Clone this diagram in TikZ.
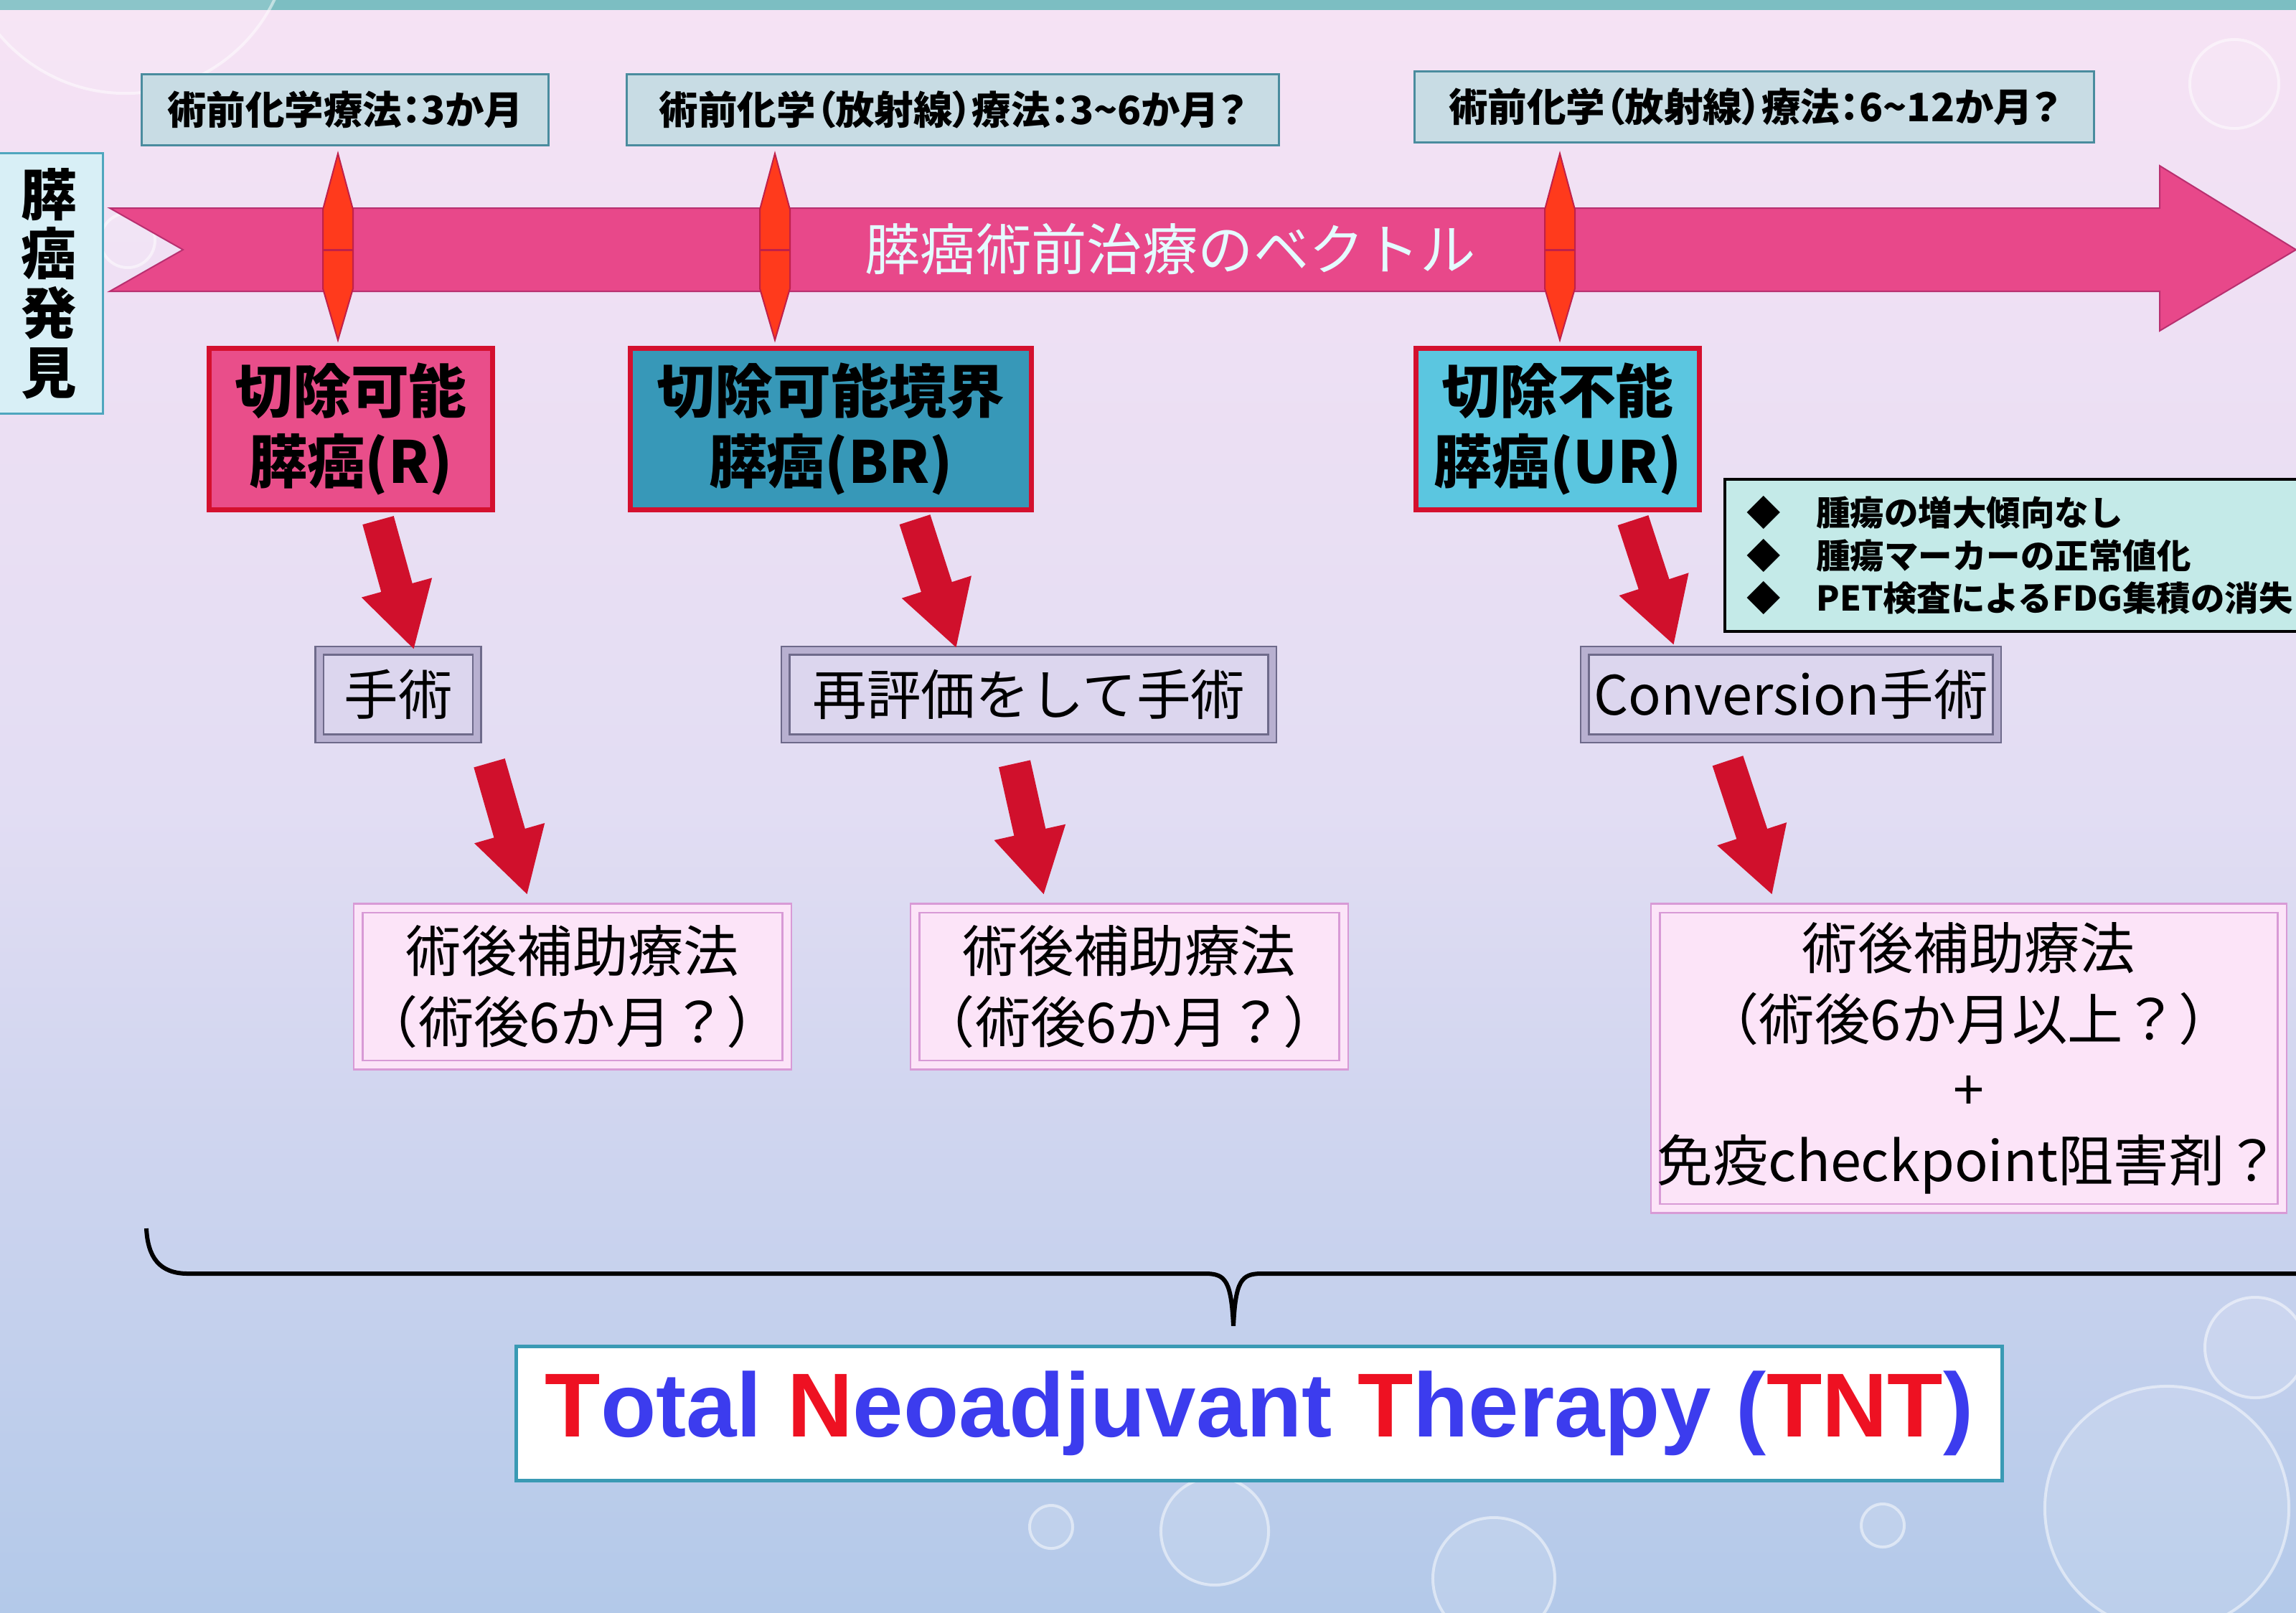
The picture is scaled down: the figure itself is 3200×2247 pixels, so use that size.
\documentclass[tikz,border=0pt]{standalone}
\usepackage{fontspec}
\newfontfamily\jpfont{Noto Sans CJK JP}
\newfontfamily\jppfont[RawFeature=+palt]{Noto Sans CJK JP}
\newfontfamily\tntfont{Liberation Sans}
\usetikzlibrary{positioning}
\usetikzlibrary{calc}
\usetikzlibrary{arrows.meta}

\definecolor{bgtop}{HTML}{F6E2F4}
\definecolor{bgmid}{HTML}{E2DDF3}
\definecolor{bgbottom}{HTML}{B3C9E9}
\definecolor{bandteal}{HTML}{7CBEC2}
\definecolor{discfill}{HTML}{D8EFF6}
\definecolor{discline}{HTML}{4FA6BE}
\definecolor{termfill}{HTML}{C8DCE4}
\definecolor{termline}{HTML}{4A8C9E}
\definecolor{vecpink}{HTML}{E8488A}
\definecolor{vecedge}{HTML}{B83070}
\definecolor{vectext}{HTML}{E4FBFF}
\definecolor{tickred}{HTML}{FF3A1C}
\definecolor{tickedge}{HTML}{C0204A}
\definecolor{stagered}{HTML}{D4102E}
\definecolor{rfill}{HTML}{E94E8A}
\definecolor{brfill}{HTML}{3798B8}
\definecolor{urfill}{HTML}{5BC6E0}
\definecolor{opline}{HTML}{6E6A8A}
\definecolor{opband}{HTML}{B8B0D0}
\definecolor{opfill}{HTML}{DCD6EE}
\definecolor{adjfill}{HTML}{FCE4F8}
\definecolor{adjline}{HTML}{D89AD6}
\definecolor{critfill}{HTML}{C4EAE8}
\definecolor{flowred}{HTML}{D0102C}
\definecolor{tntframe}{HTML}{3A9AB4}
\definecolor{tntred}{HTML}{EE1122}
\definecolor{tntblue}{HTML}{3C3CEE}

\begin{document}
\begin{tikzpicture}[x=0.01cm, y=-0.01cm,
			term/.style={draw=termline, fill=termfill, line width=0.03cm, inner sep=0pt, minimum height=0.98cm, font=\jppfont\bfseries\fontsize{15.5}{18}\selectfont},
			stage/.style={draw=stagered, line width=0.07cm, inner sep=0pt, minimum height=2.25cm, align=center, font=\jpfont\bfseries\fontsize{23}{28}\selectfont},
			op/.style={draw=opline, double=opband, line width=0.025cm, double distance=0.09cm, fill=opfill, inner sep=0pt, minimum height=1.22cm, font=\jpfont\fontsize{21.5}{26}\selectfont},
			adj/.style={draw=adjline, double=adjfill, line width=0.025cm, double distance=0.1cm, fill=adjfill, inner sep=0pt, align=center, font=\jpfont\fontsize{22}{28}\selectfont},
			flow/.style={draw=flowred, line width=0.45cm, -{Triangle[length=0.9cm, width=0.95cm]}},
			bubble/.style={draw=white, draw opacity=0.5, line width=0.04cm, fill=white, fill opacity=0.12}]
			\useasboundingbox (0,0) rectangle (3200,2247);
			\fill[top color=bgtop, bottom color=bgbottom, middle color=bgmid] (0,0) rectangle (3200,2247);
			\fill[bandteal] (0,0) rectangle (3200,14);
			% water drops on the slide
			\path[bubble] (175,-100) circle[radius=2.3cm];
			\path[bubble] (3114,117) circle[radius=0.62cm];
			\path[bubble] (178,335) circle[radius=0.38cm];
			\path[bubble] (1465,2128) circle[radius=0.3cm];
			\path[bubble] (1693,2134) circle[radius=0.75cm];
			\path[bubble] (2082,2200) circle[radius=0.85cm];
			\path[bubble] (2624,2126) circle[radius=0.3cm];
			\path[bubble] (3020,2102) circle[radius=1.7cm];
			\path[bubble] (3143,1878) circle[radius=0.7cm];
			% treatment vector
			\node[draw=discline, fill=discfill, line width=0.03cm, minimum width=1.5cm, minimum height=3.62cm, inner sep=0pt, align=center, font=\jpfont\bfseries\fontsize{22}{23.5}\selectfont] (disc) at (68,395) {膵\\癌\\発\\見};
			\filldraw[fill=vecpink, draw=vecedge, line width=0.02cm] (153,290) -- (3010,290) -- (3010,231) -- (3200,348) -- (3010,461) -- (3010,406) -- (153,406) -- (255,348) -- cycle;
			\node[text=vectext, font=\jpfont\fontsize{22}{26}\selectfont] (vec) at (1631,347) {膵癌術前治療のベクトル};
			\foreach \x in {471,1080,2174} {
				\filldraw[fill=tickred, draw=tickedge, line width=0.02cm] (\x,214) -- (\x+21,292) -- (\x+21,402) -- (\x,474) -- (\x-21,402) -- (\x-21,292) -- cycle;
				\draw[tickedge, line width=0.03cm] (\x-21,348) -- (\x+21,348);
			}
			\node[term, minimum width=5.67cm] (chemo1) at (481,153) {術前化学療法：3か月};
			\node[term, minimum width=9.08cm] (chemo2) at (1328,153) {術前化学（放射線）療法：3\textasciitilde 6か月？};
			\node[term, minimum width=9.46cm] (chemo3) at (2445,149) {術前化学（放射線）療法：6\textasciitilde 12か月？};
			% resectability
			\node[stage, fill=rfill, minimum width=3.95cm] (R) at (489,598) {切除可能\\膵癌(R)};
			\node[stage, fill=brfill, minimum width=5.58cm] (BR) at (1158,598) {切除可能境界\\膵癌(BR)};
			\node[stage, fill=urfill, minimum width=3.95cm] (UR) at (2171,598) {切除不能\\膵癌(UR)};
			\node[draw=black, fill=critfill, line width=0.04cm, text width=7.9cm, inner xsep=0.3cm, minimum height=2.11cm, align=left, anchor=west, font=\jpfont\bfseries\fontsize{13.5}{17}\selectfont] (crit) at (2402,774) {◆\hspace{0.5cm}腫瘍の増大傾向なし\\◆\hspace{0.5cm}腫瘍マーカーの正常値化\\◆\hspace{0.5cm}PET検査によるFDG集積の消失};
			% surgery
			\node[op, minimum width=2.19cm] (opR) at (555,968) {手術};
			\node[op, minimum width=6.78cm] (opBR) at (1434,968) {再評価をして手術};
			\node[op, minimum width=5.74cm] (opUR) at (2496,968) {Conversion手術};
			% adjuvant
			\node[adj, minimum width=5.97cm, minimum height=2.18cm] (adjR) at (798,1375) {術後補助療法\\（術後6か月？）};
			\node[adj, minimum width=5.97cm, minimum height=2.18cm, right=1.76cm of adjR] (adjBR) {術後補助療法\\（術後6か月？）};
			\node[adj, minimum width=8.73cm, minimum height=4.18cm] (adjUR) at (2744,1475) {術後補助療法\\（術後6か月以上？）\\+\\免疫checkpoint阻害剤？};
			\draw[flow] ($(R.south)+(38,11)$) -- ($(opR.north)+(22,0)$);
			\draw[flow] ($(BR.south)+(117,10)$) -- ($(opBR.north)+(-101,-2)$);
			\draw[flow] ($(UR.south)+(105,11)$) -- ($(opUR.north)+(-163,-6)$);
			\draw[flow] ($(opR.south)+(127,33)$) -- ($(adjR.north)+(-63,-17)$);
			\draw[flow] ($(opBR.south)+(-20,34)$) -- ($(adjBR.north)+(-119,-17)$);
			\draw[flow] ($(opUR.south)+(-88,30)$) -- ($(adjUR.north)+(-274,-17)$);
			% TNT
			\draw[line width=0.06cm] (204,1712) .. controls (206,1752) and (222,1775) .. (262,1775) -- (1680,1775) .. controls (1708,1775) and (1716,1785) .. (1719,1848) .. controls (1722,1785) and (1730,1775) .. (1758,1775) -- (3210,1775);
			\node[draw=tntframe, fill=white, line width=0.045cm, minimum width=20.7cm, minimum height=1.87cm, inner sep=0pt, font=\tntfont\bfseries\fontsize{36}{40}\selectfont] (tnt) at (1755,1970) {\textcolor{tntred}{T}\textcolor{tntblue}{otal} \textcolor{tntred}{N}\textcolor{tntblue}{eoadjuvant} \textcolor{tntred}{T}\textcolor{tntblue}{herapy (}\textcolor{tntred}{TNT}\textcolor{tntblue}{)}};
	\end{tikzpicture}
\end{document}
